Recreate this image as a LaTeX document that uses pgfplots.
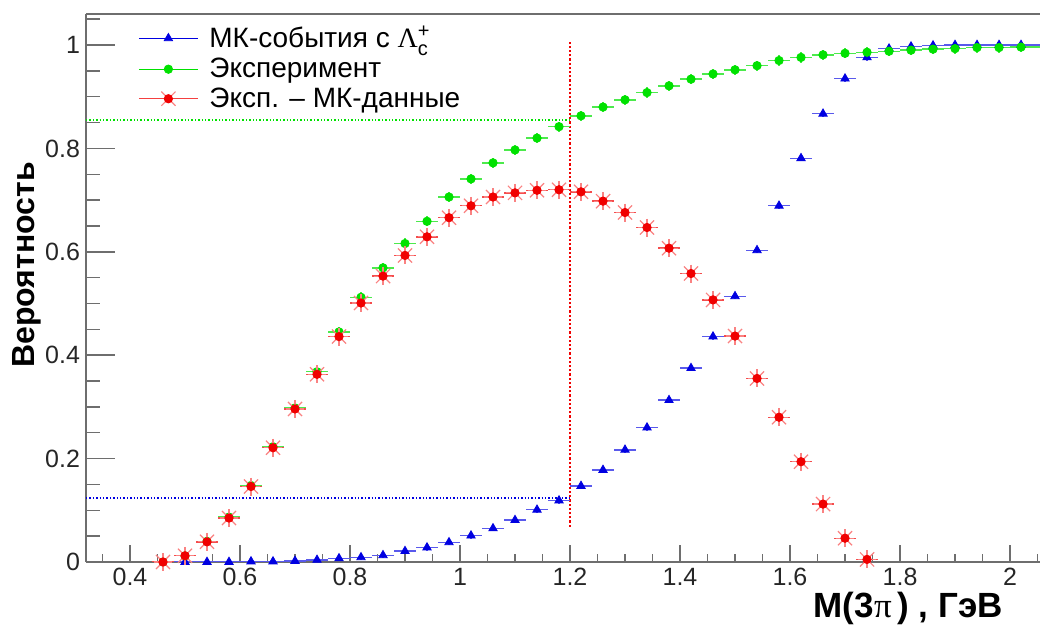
\documentclass[border=0pt]{standalone}
\usepackage{fontspec}
\setmainfont{Liberation Sans}
\newfontfamily\symfont{Liberation Serif}
\usepackage{pgfplots}
\usepackage{pgfplotstable}
\pgfplotsset{compat=1.18}
\definecolor{rootblue}{RGB}{0,0,225}
\definecolor{rootgreen}{RGB}{0,225,0}
\definecolor{rootred}{RGB}{240,0,0}
\definecolor{starred}{RGB}{250,130,130}
\definecolor{framegray}{RGB}{110,110,110}

\pgfplotstableread{
x y
0.50 0.000
0.54 0.000
0.58 0.000
0.62 0.001
0.66 0.001
0.70 0.002
0.74 0.004
0.78 0.007
0.82 0.009
0.86 0.013
0.90 0.021
0.94 0.028
0.98 0.038
1.02 0.051
1.06 0.065
1.10 0.081
1.14 0.101
1.18 0.119
1.22 0.147
1.26 0.178
1.30 0.217
1.34 0.260
1.38 0.313
1.42 0.375
1.46 0.436
1.50 0.514
1.54 0.603
1.58 0.689
1.62 0.781
1.66 0.867
1.70 0.935
1.74 0.976
1.78 0.993
1.82 0.997
1.86 0.999
1.90 1.000
1.94 1.000
1.98 1.000
2.02 1.000
2.06 1.000
}\mcdata

\pgfplotstableread{
x y
0.46 0.000
0.50 0.012
0.54 0.040
0.58 0.087
0.62 0.148
0.66 0.223
0.70 0.298
0.74 0.368
0.78 0.445
0.82 0.512
0.86 0.569
0.90 0.616
0.94 0.659
0.98 0.706
1.02 0.741
1.06 0.772
1.10 0.797
1.14 0.820
1.18 0.842
1.22 0.863
1.26 0.880
1.30 0.894
1.34 0.908
1.38 0.921
1.42 0.934
1.46 0.944
1.50 0.952
1.54 0.960
1.58 0.970
1.62 0.976
1.66 0.981
1.70 0.984
1.74 0.986
1.78 0.988
1.82 0.990
1.86 0.992
1.90 0.993
1.94 0.995
1.98 0.995
2.02 0.996
2.06 0.996
}\expdata

\pgfplotstableread{
x y
0.46 0.000
0.50 0.012
0.54 0.039
0.58 0.085
0.62 0.146
0.66 0.221
0.70 0.296
0.74 0.363
0.78 0.436
0.82 0.501
0.86 0.553
0.90 0.593
0.94 0.629
0.98 0.666
1.02 0.689
1.06 0.706
1.10 0.714
1.14 0.719
1.18 0.720
1.22 0.716
1.26 0.698
1.30 0.676
1.34 0.647
1.38 0.607
1.42 0.558
1.46 0.507
1.50 0.437
1.54 0.355
1.58 0.280
1.62 0.194
1.66 0.112
1.70 0.046
1.74 0.005
}\diffdata

\begin{document}
\begin{tikzpicture}
\begin{axis}[
  scale only axis, width=477pt, height=274pt,
  at={(0,0)}, anchor=south west,
  xmin=0.32, xmax=2.0545, ymin=0, ymax=1.06,
  axis x line*=bottom, axis y line*=left,
  axis line style={framegray, line width=0.8pt},
  tick align=inside,
  xtick={0.2,0.4,0.6,0.8,1,1.2,1.4,1.6,1.8,2,2.2},
  ytick={0,0.2,0.4,0.6,0.8,1,1.2},
  minor x tick num=3, minor y tick num=3,
  tick style={framegray, line width=0.7pt},
  xtick style={/pgfplots/major tick length=8.5pt, /pgfplots/minor tick length=4.2pt},
  ytick style={/pgfplots/major tick length=14.5pt, /pgfplots/minor tick length=7.2pt},
  /pgf/number format/assume math mode=true,
  ticklabel style={font=\fontsize{12.5}{14}\selectfont, text=black!85},
  xticklabel style={yshift=0.6pt},
  yticklabel style={xshift=0.5pt},
  xlabel={\bfseries M(3{\mdseries\symfont π}\,) , ГэВ},
  xlabel style={font=\fontsize{17.5}{19}\selectfont, at={(axis description cs:0.9685,0)}, anchor=east, yshift=-23.4pt, inner ysep=0pt},
  ylabel={\bfseries Вероятность},
  ylabel style={font=\fontsize{16}{18}\selectfont, at={(axis description cs:-0.0618,0.542)}, anchor=center},
  legend style={draw=none, fill=none, at={(axis description cs:0.0545,0.985)}, anchor=north west,
    font=\fontsize{14}{16}\selectfont, row sep=0.5pt, inner sep=0pt,
    nodes={inner xsep=5.5pt, inner ysep=1.5pt}},
  legend cell align=left,
  clip=true,
]
% reference lines
\addplot[rootgreen, densely dotted, line width=0.7pt, forget plot] coordinates {(0.32,0.855) (1.2,0.855)};
\addplot[rootblue, densely dotted, line width=0.7pt, forget plot] coordinates {(0.32,0.124) (1.2,0.124)};
\addplot[rootred, densely dotted, line width=1.1pt, forget plot] coordinates {(1.2,0.068) (1.2,1.01)};

% MC
\addplot[forget plot, only marks, mark=triangle*, mark size=2.4pt, color=rootblue,
  error bars/.cd, x dir=both, x fixed=0.02, y dir=both, y fixed=0.006, error mark=none,
  error bar style={rootblue!65, line width=0.7pt}] table {\mcdata};
% Experiment
\addplot[forget plot, only marks, mark=*, mark size=2.1pt, color=rootgreen,
  error bars/.cd, x dir=both, x fixed=0.02, y dir=both, y fixed=0.01, error mark=none,
  error bar style={rootgreen!70, line width=0.7pt}] table {\expdata};
% Exp - MC
\addplot[forget plot, only marks, mark=x, mark size=5pt, color=starred, mark options={line width=0.6pt},
  error bars/.cd, x dir=both, x fixed=0.02, error mark=none,
  error bar style={rootred!70, line width=0.7pt}] table {\diffdata};
\addplot[forget plot, only marks, mark=+, mark size=4.5pt, color=starred, mark options={line width=0.6pt}] table {\diffdata};
\addplot[forget plot, only marks, mark=*, mark size=2.1pt, color=rootred] table {\diffdata};

\addlegendimage{legend image code/.code={
  \draw[rootblue, line width=0.5pt] (0pt,0pt) -- (29.5pt,0pt);
  \draw[rootblue, mark=triangle*, mark size=2.4pt] plot coordinates {(14.75pt,0pt)};}}
\addlegendentry{МК-события с $\mbox{\symfont Λ}^{\mbox{\fontsize{10}{11}\selectfont +}}_{\mbox{\fontsize{10}{11}\selectfont c}}$}
\addlegendimage{legend image code/.code={
  \draw[rootgreen, line width=0.5pt] (0pt,0pt) -- (29.5pt,0pt);
  \draw[rootgreen, mark=*, mark size=2.1pt] plot coordinates {(14.75pt,0pt)};}}
\addlegendentry{Эксперимент}
\addlegendimage{legend image code/.code={
  \draw[rootred!75, line width=0.5pt] (0pt,0pt) -- (29.5pt,0pt);
  \draw[starred, line width=0.6pt, mark=x, mark size=5pt] plot coordinates {(14.75pt,0pt)};
  \draw[rootred, mark=*, mark size=2.1pt] plot coordinates {(14.75pt,0pt)};}}
\addlegendentry{Эксп. -- МК-данные}

\draw[framegray, line width=0.8pt] (rel axis cs:0,1) -- (rel axis cs:1,1);
\end{axis}
\pgfresetboundingbox
\useasboundingbox (-43pt,-31.5pt) rectangle (477pt,281pt);
\end{tikzpicture}
\end{document}
